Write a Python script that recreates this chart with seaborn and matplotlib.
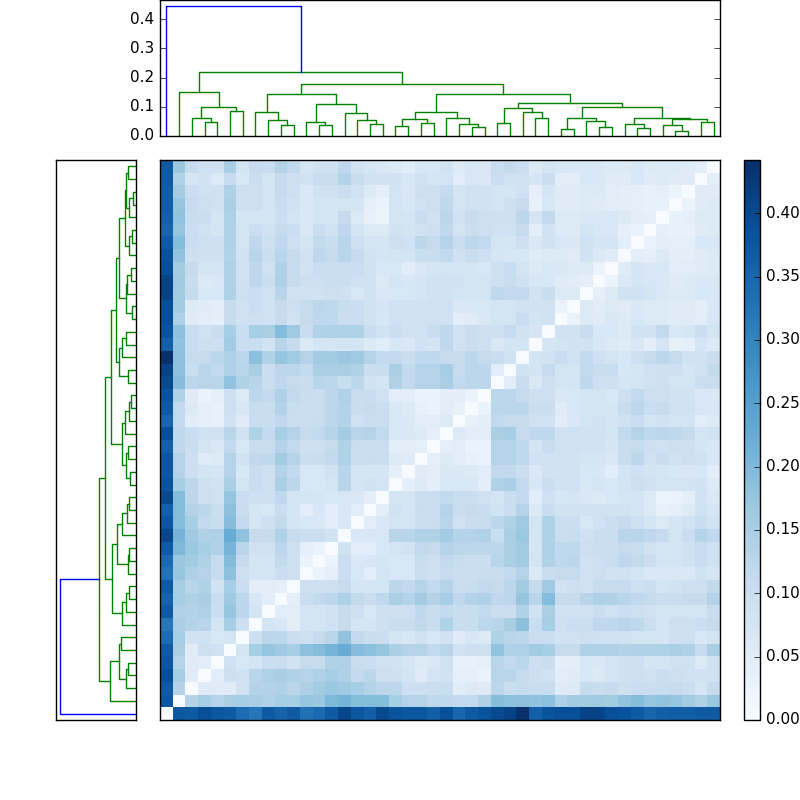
import numpy as np
import matplotlib
matplotlib.use("Agg")
import matplotlib.pyplot as plt
import seaborn as sns

plt.style.use("classic")

# distances x100, upper left triangle of the matrix, row by row from the top
dist_rows = [
    [37,17,11,9,9,15,8,11,10.5,13.5,11.5,7.5,9,9,12,8.5,7.5,6.5,6,5,7,7, 8.5,6,7,6.5,10.5,11.5,10,6,8,7,7,7,6.5,6,6,7,6,6,6,5.5,4.5],
    [37,14,7.5,8.5,6,11,7,10,8,11,9.5,8.5,10.5,10.5,13.5,10.5,9,8.5,8.5,7,9,7.5, 8,5,7,6.5,10,9,9,7.5,10,5,4.5,7,6.5,5.5,5.5,7,5.5,6,5.5,5.5],
    [36.5,16,10,9,9,14.5,9.5,9.5,8,11,9.5,6.5,9,9,10,8.5,6,4.5,8,6.5,9.5,9.5, 11,8,9,8.5,8,7.5,9,4,7.5,5.5,5.5,6,6,5,4,4,3.5,4,2.5],
    [36.5,17.5,11,9.5,9,15,9.5,9.5,8,10.5,8.5,6.5,8,7.5,8,7.5,4,3,8,7,8.5,9.5, 12,8,9,8.5,8,9.5,11,3.5,7,5.5,5.5,6,5.5,5,4.5,4,3.5,3.5],
    [36,18,10.5,10,8,14.5,7.5,7.5,7.5,10,8,6.5,8,7.5,11,6,3.5,2.5,8,7.5,10.5,9, 12.5,9,11,9.5,9.5,9.5,12.5,7.5,11.5,6,6,6.5,6.5,7,6,4.5,4],
    [35,17.5,10,9,8,14,8,10,8.5,11,10,6.5,10,8.5,12,8,6,6,8.5,8,9,9.5, 12,8,10,9.5,9,9,11,4.5,8.5,6,6,8,7,6.5,4,3],
    [37,19.5,10,9.5,9.5,14,8,12,9.5,12,9.5,8,11.5,10.5,13,9.5,7.5,7.5,9.5,9,12.5,11, 13.5,10,12.5,11.5,8,7.5,9.5,6.5,8.5,7,6.5,9,7.5,7.5,5],
    [38.5,18,9.5,9,9,13.5,8.5,13,10,13,11,9,12,11,13,11,8.5,7.5,8,8,10.5,10.5, 11.5,9,10.5,9.5,7.5,7,7,5.5,6,6,5.5,8.5,6.5,5.5],
    [39,16,11,8,8,14.5,9,12,9,14,11,8.5,10,10,10,10,8.5,7,7,5,6.5,7.5, 8,7.5,7.5,7,9.5,10.5,8,6,7,6.5,6,6,3],
    [41,16.5,10.5,6,6.5,14.5,9,12,10,14.5,11,9.5,9.5,10,10,9,8.5,6,7.5,7,7.5,9, 9,8.5,7.5,8,9.5,10.5,9,7,7,5.5,5,4],
    [41,16,11,7,7,14.5,9.5,10,9,13,8.5,9,9,9.5,9,7,8.5,6.5,7,7,7.5,8.5, 8.5,8,7.5,8,12,11.5,11.5,8.5,10.5,6,6],
    [39,16,6,5.5,5,11,9,10,9,11,9.5,11,12.5,12,10.5,10,8.5,7.5,9,8.5,8.5,9, 9,6.5,7,7,8,8,9,8.5,8.5,3],
    [39,14.5,5.5,5,4,11,9,9,9,11,8.5,11,12,12,10,10,8.5,7,9,8.5,8.5,9, 9,5,5.5,6.5,8,8,10.5,8,8.5],
    [38,18.5,10.5,9,10.5,15.5,10,15.5,15,19.5,16.5,10.5,14,14.5,14,14,10.5,9,10,8.5,9,10.5, 12,9,10,9.5,9.5,11,8.5,7.5],
    [36,18,10.5,9.5,9.5,16,10,10.5,8.5,13,11,6,8,7.5,8,8,6,5,7,6.5,9,8, 12,9,10,9.5,6.5,8,8],
    [44.2,18.5,11,11,12.5,14.5,12.5,18.5,14,17.5,16,13.5,16,16,17,16.5,13.5,11.5,11.5,10,12,12, 11,11,12.5,11,10.5,8.5],
    [41,18.5,10.5,13,11.5,14.5,13,15,10,12.5,12.5,11.5,15,15,15,14,10,10.5,15,11.5,13.5,13.5, 15.5,11,12.5,12.5,5],
    [40,19,12.5,13,13,18,14,13,10,12,11,10.5,13,12.5,10.5,12.5,8.5,8,14,11.5,13.5,13.5, 15,11.5,12.5,12.5],
    [38,14,5.5,3,4,9.5,6,12.5,11.5,14.5,11.5,10.5,10,12.5,14,10.5,10.5,9,5,5,3,3, 4.5,4.5,3],
    [37,11.5,6,4,3.5,9.5,7,10.5,10.5,13.5,10.5,10,10,12.5,13.5,10.5,11,10,7,6,3.5,3, 5,3.5],
    [35,11.5,5,4,3.5,8.5,5.5,10.5,10.5,12,10,10,10.5,12.5,13.5,9,10,10,7,6.5,5,5, 6],
    [39,12,10.5,8.5,8.5,13,8.5,14,11.5,15.5,13.5,11,11.5,13.5,16,13,13.5,11.5,7,6.5,6,4],
    [36,12,10,8,6.5,11.5,7,10.5,10.5,13.5,11.5,9.5,9.5,11,14,10.5,10,10,4.5,4.5,4],
    [37.5,13.5,9.5,5.5,6,13.5,8.5,11.5,12,16,13.5,10,10.5,11.5,14,10,10.5,10,6,5.5],
    [37.5,13.5,9.5,8,7.5,13.5,7,10.5,9.5,13.5,11.5,7,7,8.5,13,8,7.5,7.5,4],
    [38,15.5,12.5,9.5,8.5,15,8,10.5,9.5,15,12.5,7,7,8,13,8,8.5,8],
    [40,19.5,12.5,9.5,9,17.5,10,9.5,9.5,12,8,8,7.5,7,7,6.5,4.5],
    [36,19.5,13.5,12.5,10,18.5,10.5,7.5,7,10,8,5,7,5,7,5],
    [37.5,19.5,15.5,11.5,10.5,19,11.5,7.5,9.5,11.5,7.5,7,6.5,5,7],
    [40.5,21,16.5,14.5,14.5,22.5,18,11,11,14.5,11,10,10,8.5],
    [37,20,17,15.5,14,21,13,9,9,12.5,9.5,4,3],
    [34.5,17,16,14.5,11,19.5,11,8,8,11.5,9.5,3],
    [33,17.5,14.5,13.5,11,18.5,9.5,8,8,10,9.5],
    [37,15.5,13,14,8.5,15.5,10,4.5,5,4],
    [35.5,15.5,14,15,10.5,16.5,12.5,7,5],
    [37,14,13.5,14.5,10,17.5,12.5,8],
    [32,15,13.5,13,8,15.5,9.5],
    [34,15.5,8.5,8.5,7,8],
    [37,15,5.5,9.5,9],
    [37.5,13.5,5.5,5],
    [39,15.5,5.5],
    [37,13.5],
    [37.5],
]

# dendrogram merges, new node ids count up from 44
merge_left = [3,2,5,45,1,9,8,7,12,11,16,15,14,53,51,18,20,59,24,23,22,61,26,29,28,66,
              31,34,33,70,37,36,40,39,42,77,75,73,69,65,58,48,0]
merge_right = [4,44,6,46,47,10,49,50,13,52,17,54,55,56,57,19,21,60,25,62,63,64,27,30,67,68,
               32,35,71,72,38,74,41,76,43,78,79,80,81,82,83,84,85]
merge_height = [.049,.06,.087,.10,.152,.039,.056,.083,.039,.049,.042,.054,.08,.11,.142,
                .033,.046,.058,.03,.042,.063,.081,.046,.06,.081,.097,.023,.03,.052,.06,
                .026,.04,.018,.038,.047,.059,.063,.098,.114,.145,.178,.218,.443]

cbar_ticks = [0, .05, .10, .15, .20, .25, .30, .35, .40]
n = 44

for r, row in enumerate(dist_rows):
    assert len(row) == n - 1 - r, (r, len(row))


def get_links():
    pos = {i: i + 0.5 for i in range(n)}
    hgt = {i: 0.0 for i in range(n)}
    links = []
    for k, (a, b, h) in enumerate(zip(merge_left, merge_right, merge_height)):
        links.append((pos[a], pos[b], hgt[a], hgt[b], h))
        pos[n + k] = (pos[a] + pos[b]) / 2
        hgt[n + k] = h
    return links


matrix = np.zeros((n, n))
for r, row in enumerate(dist_rows):
    for c, v in enumerate(row):
        matrix[r, c] = v / 100
        matrix[n - 1 - c, n - 1 - r] = v / 100

fig = plt.figure(figsize=(8, 8), dpi=100, facecolor="white")
ax_top = fig.add_axes([0.2, 0.83, 0.7, 0.17])
ax_left = fig.add_axes([0.07, 0.1, 0.1, 0.7])
ax_map = fig.add_axes([0.2, 0.1, 0.7, 0.7])
ax_cbar = fig.add_axes([0.93, 0.1, 0.02, 0.7])

sns.heatmap(matrix, cmap="Blues", vmin=0, ax=ax_map, cbar_ax=ax_cbar,
            xticklabels=False, yticklabels=False)
for spine in ax_map.spines.values():
    spine.set_visible(True)
    spine.set_linewidth(1)
cbar = ax_map.collections[0].colorbar
cbar.outline.set_linewidth(1)
cbar.outline.set_edgecolor("black")
cbar.set_ticks(cbar_ticks)
cbar.set_ticklabels(["%.2f" % t for t in cbar_ticks], fontsize=11)
ax_cbar.tick_params(axis="y", direction="in", right=True, left=False, length=4, pad=4)

top = max(merge_height) * 1.05
for p1, p2, h1, h2, h in get_links():
    color = "b" if h == max(merge_height) else "g"
    ax_top.plot([p1, p1, p2, p2], [h1, h, h, h2], color=color, lw=1)
    ax_left.plot([h1, h, h, h2], [p1, p1, p2, p2], color=color, lw=1)

ax_top.set_xlim(0, n)
ax_top.set_ylim(0, top)
ax_top.set_xticks([])
ax_top.set_yticks([0, .1, .2, .3, .4])
ax_top.tick_params(axis="y", labelsize=11)

ax_left.set_ylim(0, n)
ax_left.set_xlim(top, 0)
ax_left.set_xticks([])
ax_left.set_yticks([])

plt.savefig("out.png", dpi=100, facecolor="white")
